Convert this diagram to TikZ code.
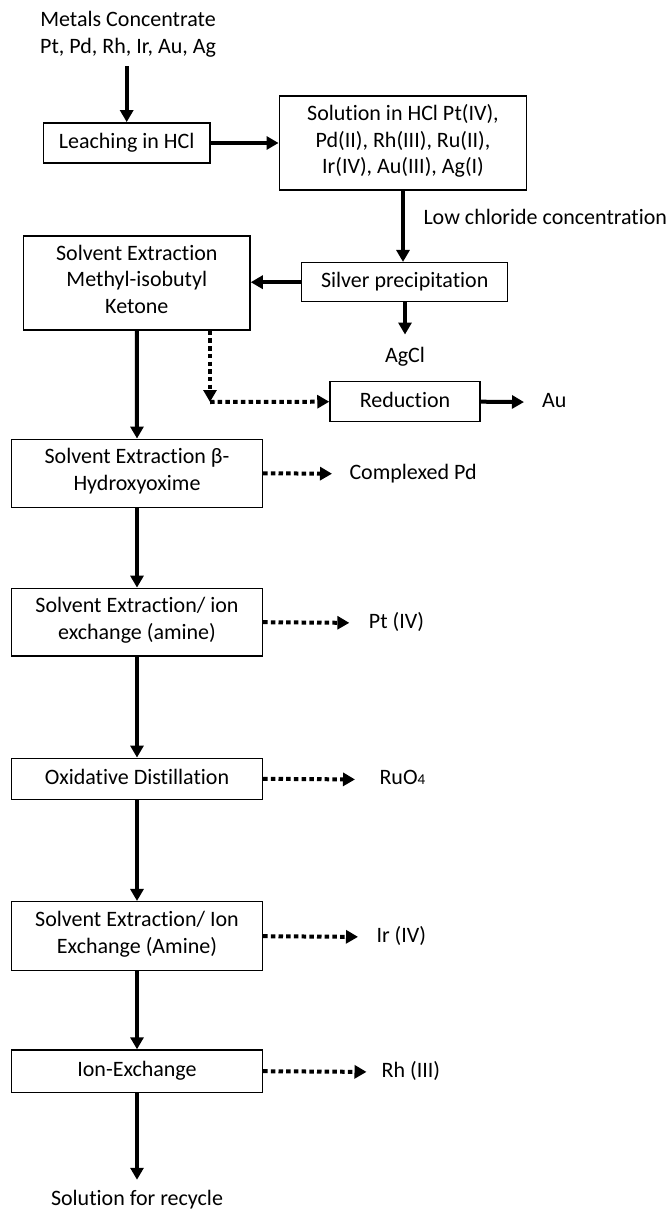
\documentclass[tikz,border=0pt]{standalone}
\usepackage{fontspec}
\setmainfont{Carlito}[Ligatures=NoCommon]
\usetikzlibrary{arrows.meta}
\begin{document}
\begin{tikzpicture}[x=1pt, y=-1pt,
  txt/.style={font=\fontsize{22}{26.5}\selectfont, align=center,
    execute at begin node=\strut, execute at end node=\strut},
  box/.style={txt, draw, line width=1.5pt, inner sep=0pt},
  lbl/.style={txt, inner sep=0pt},
  flow/.style={line width=4pt, -{Triangle[length=12pt, width=13pt]}},
  side/.style={flow, dash pattern=on 4.5pt off 3.2pt}
]
\useasboundingbox (0,0) rectangle (671,1209);

% main process boxes
\node[lbl] (src) at (128,36.4) {Metals Concentrate\\Pt, Pd, Rh, Ir, Au, Ag};
\node[box, minimum width=166.7pt, minimum height=40.3pt] (leach) at (126.7,143) {Leaching in HCl};
\node[box, minimum width=247.4pt, minimum height=94pt] (sol) at (403,143) {Solution in HCl Pt(IV),\\Pd(II), Rh(III), Ru(II),\\Ir(IV), Au(III), Ag(I)};
\node[box, minimum width=206pt, minimum height=39pt] (silver) at (404.7,282.2) {Silver precipitation};
\node[box, minimum width=226.4pt, minimum height=94pt] (mibk) at (136.8,283) {Solvent Extraction\\Methyl-isobutyl\\Ketone};
\node[box, minimum width=150pt, minimum height=40pt] (red) at (405,401.7) {Reduction};
\node[box, minimum width=250.7pt, minimum height=68pt] (beta) at (137,473.3) {Solvent Extraction β-\\Hydroxyoxime};
\node[box, minimum width=250.7pt, minimum height=67.7pt] (amine1) at (137,622.2) {Solvent Extraction/ ion\\exchange (amine)};
\node[box, minimum width=250.7pt, minimum height=41pt] (oxid) at (137,778.8) {Oxidative Distillation};
\node[box, minimum width=250.7pt, minimum height=69pt] (amine2) at (137,936.2) {Solvent Extraction/ Ion\\Exchange (Amine)};
\node[box, minimum width=250.7pt, minimum height=42.3pt] (ionex) at (137,1071.2) {Ion-Exchange};

% products and side labels
\node[lbl, anchor=west] (lowcl) at (423.3,219.5) {Low chloride concentration};
\node[lbl] (agcl) at (405,357.5) {AgCl};
\node[lbl, anchor=west] (au) at (542,402.2) {Au};
\node[lbl, anchor=west] (cpd) at (349.3,473.8) {Complexed Pd};
\node[lbl, anchor=west] (pt) at (368.6,623) {Pt (IV)};
\node[lbl, anchor=west] (ruo) at (379.3,779.6) {RuO{\fontsize{15}{15}\selectfont 4}};
\node[lbl, anchor=west] (ir) at (376.3,937) {Ir (IV)};
\node[lbl, anchor=west] (rh) at (381.5,1072) {Rh (III)};
\node[lbl] (recycle) at (137,1200.2) {Solution for recycle};
\coordinate (bend) at (210,402);

% solid flow
\draw[flow, shorten <=5pt] (src.south -| leach.north) -- (leach.north);
\draw[flow] (leach.east) -- (sol.west |- leach.east);
\draw[flow] (sol.south) -- (sol.south |- silver.north);
\draw[flow] (silver.west) -- (mibk.east |- silver.west);
\draw[flow, shorten >=9.5pt] (silver.south -| agcl.north) -- (agcl.north);
\draw[flow, shorten >=18pt] (red.east) -- (au.west);
\draw[flow] (mibk.south) -- (beta.north);
\draw[flow] (beta.south) -- (amine1.north);
\draw[flow] (amine1.south) -- (oxid.north);
\draw[flow] (oxid.south) -- (amine2.north);
\draw[flow] (amine2.south) -- (ionex.north);
\draw[flow, shorten >=7pt] (ionex.south) -- (recycle.north);

% dotted side streams
\draw[side] (bend |- mibk.south) -- (bend);
\draw[side] (bend) -- (red.west);
\draw[side, shorten >=17.3pt] (beta.east) -- (cpd.west);
\draw[side, shorten >=19.3pt] (amine1.east) -- (pt.west);
\draw[side, shorten >=24.3pt] (oxid.east) -- (ruo.west);
\draw[side, shorten >=18.3pt] (amine2.east) -- (ir.west);
\draw[side, shorten >=15pt] (ionex.east) -- (rh.west);
\end{tikzpicture}
\end{document}
